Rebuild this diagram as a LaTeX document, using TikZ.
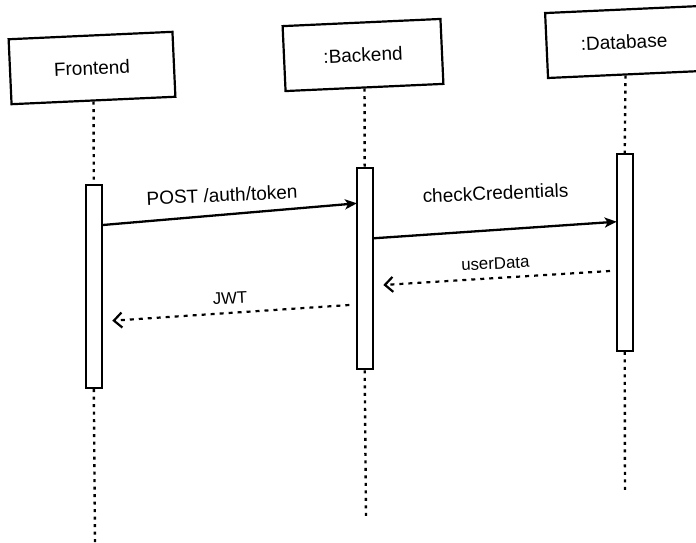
\documentclass[tikz,border=0pt]{standalone}
\usepackage{fontspec}
\setmainfont{Liberation Sans}
\usetikzlibrary{arrows.meta}
\begin{document}
\begin{tikzpicture}[x=1pt,y=-1pt,
  head/.style={draw,line width=2.2pt,fill=white,inner sep=0pt,rotate=2.6,
    minimum height=65pt,font=\fontsize{19}{22}\selectfont},
  actbox/.style={draw,line width=2.2pt,fill=white,inner sep=0pt,minimum width=16pt},
  lifeline/.style={line width=2.4pt,dash pattern=on 3pt off 4.5pt},
  callmsg/.style={line width=2.3pt,-{Stealth[length=12pt,width=10pt,inset=3pt]}},
  retmsg/.style={line width=2.2pt,dash pattern=on 4pt off 5pt,
    -{Straight Barb[length=8pt,width=15pt,line width=2.2pt]}},
  calllbl/.style={inner sep=0pt,rotate=2.5,font=\fontsize{19}{22}\selectfont},
  retlbl/.style={inner sep=0pt,rotate=2.5,font=\fontsize{16.8}{20}\selectfont}]
\useasboundingbox (0,0) rectangle (696,542);
\clip (0,0) rectangle (696,542);
% header boxes
\node[head,minimum width=164pt] (fe) at (92,68) {Frontend};
\node[head,minimum width=158pt] (be) at (363,55) {:Backend};
\node[head,minimum width=155pt] (db) at (624,42) {:Database};
% activation boxes
\node[actbox,minimum height=203pt] (feact) at (93.8,286.5) {};
\node[actbox,minimum height=201pt] (beact) at (364.7,268.7) {};
\node[actbox,minimum height=196.5pt] (dbact) at (624.7,252.5) {};
% lifeline ends
\coordinate (feend) at (95,542);
\coordinate (beend) at (366,516);
\coordinate (dbend) at (625,494);
% lifelines
\draw[lifeline] (fe.south) -- (feact.north);
\draw[lifeline] (feact.south) -- (feend);
\draw[lifeline] (be.south) -- (beact.north);
\draw[lifeline] (beact.south) -- (beend);
\draw[lifeline] (db.south) -- (dbact.north);
\draw[lifeline] (dbact.south) -- (dbend);
% message end points
\coordinate (postS) at (102.7,225);
\coordinate (postE) at (357,203.3);
\coordinate (chkS) at (373.3,238.3);
\coordinate (chkE) at (616.7,221.7);
\coordinate (udS) at (610,271);
\coordinate (udE) at (383.3,285);
\coordinate (jwtS) at (349.3,305);
\coordinate (jwtE) at (112.3,320.7);
% messages
\draw[callmsg] (postS) -- (postE);
\draw[callmsg] (chkS) -- (chkE);
\draw[retmsg] (udS) -- (udE);
\draw[retmsg] (jwtS) -- (jwtE);
% labels
\node[calllbl] (postL) at (222,195) {POST /auth/token};
\node[calllbl] (chkL) at (495.5,193) {checkCredentials};
\node[retlbl] (udL) at (495.3,263.3) {userData};
\node[retlbl] (jwtL) at (230,298.3) {JWT};
\end{tikzpicture}
\end{document}
